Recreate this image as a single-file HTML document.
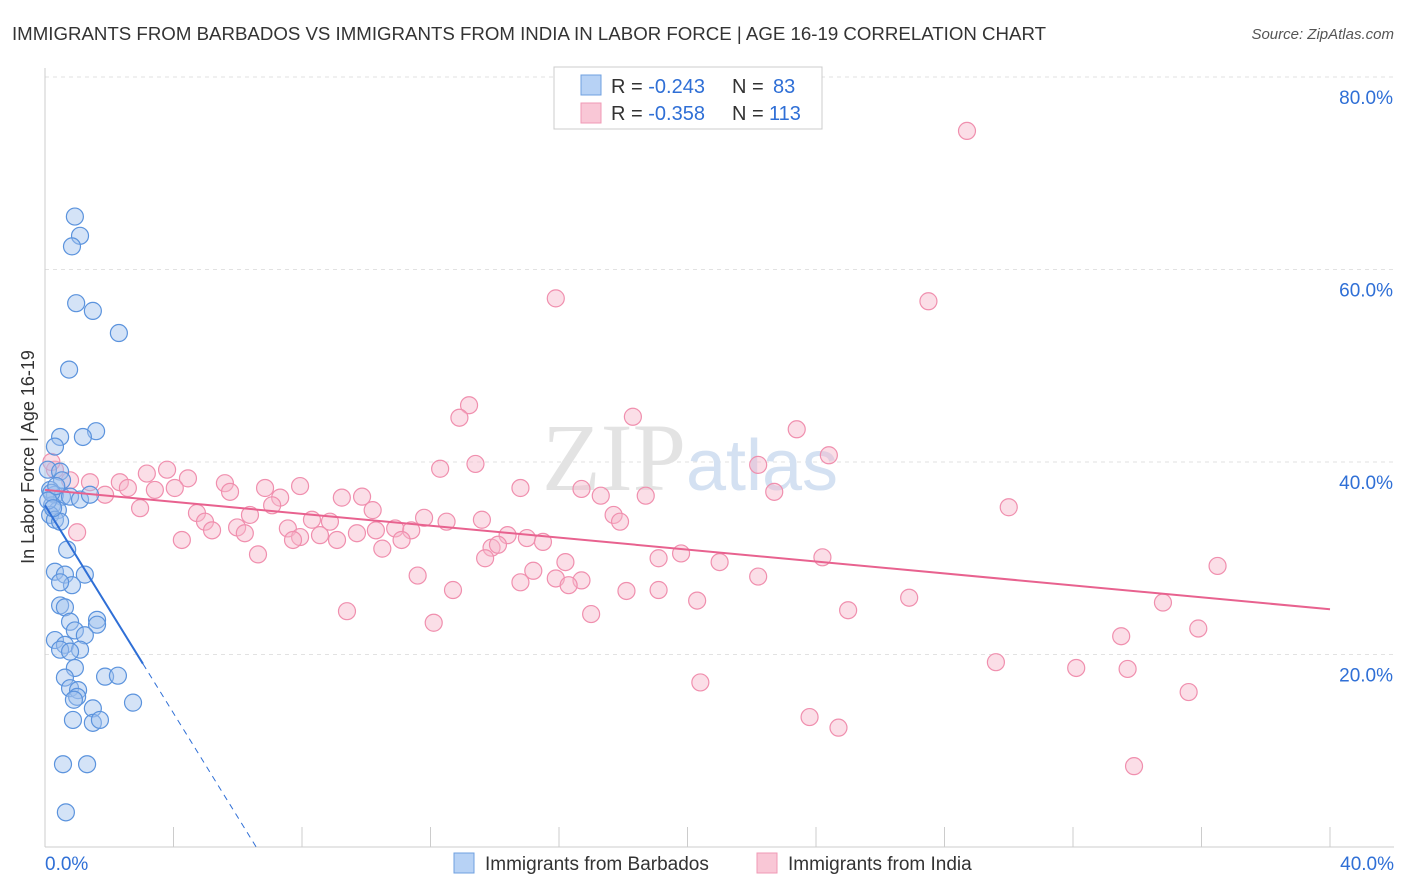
<!DOCTYPE html>
<html><head><meta charset="utf-8">
<style>
body{margin:0;background:#fff;font-family:"Liberation Sans",sans-serif;}
svg{display:block}
</style></head>
<body>
<svg id="chart" width="1406" height="892">
<text x="12" y="40" font-size="18" fill="#333" textLength="1034" lengthAdjust="spacingAndGlyphs">IMMIGRANTS FROM BARBADOS VS IMMIGRANTS FROM INDIA IN LABOR FORCE | AGE 16-19 CORRELATION CHART</text>
<text x="1394" y="39" font-size="15" fill="#555" text-anchor="end" font-style="italic">Source: ZipAtlas.com</text>
<g id="grid"></g>
<text x="690" y="490" font-size="96" fill="#e3e3e3" text-anchor="middle" font-family="Liberation Serif">ZIP<tspan fill="#d4e1f2" font-family="Liberation Sans" font-size="72">atlas</tspan></text>
<g id="marks"></g>
<text transform="translate(34,457) rotate(-90)" font-size="18" fill="#333" text-anchor="middle">In Labor Force | Age 16-19</text>
<g>
<rect x="554" y="67" width="268" height="62" fill="#fff" stroke="#ccc"/>
<rect x="581" y="75" width="20" height="20" fill="#b7d2f5" stroke="#6fa0e0"/>
<rect x="581" y="103" width="20" height="20" fill="#f9c7d6" stroke="#f09ab5"/>
<text x="611" y="93" font-size="20" fill="#333">R = <tspan fill="#2f6fd6">-0.243</tspan><tspan x="732">N = </tspan><tspan x="773" fill="#2f6fd6">83</tspan></text>
<text x="611" y="120" font-size="20" fill="#333">R = <tspan fill="#2f6fd6">-0.358</tspan><tspan x="732">N = </tspan><tspan x="769" fill="#2f6fd6">113</tspan></text>
</g>
<g>
<rect x="454" y="853" width="20" height="20" fill="#b7d2f5" stroke="#6fa0e0"/>
<text x="485" y="870" font-size="19" fill="#333">Immigrants from Barbados</text>
<rect x="757" y="853" width="20" height="20" fill="#f9c7d6" stroke="#f09ab5"/>
<text x="788" y="870" font-size="19" fill="#333">Immigrants from India</text>
</g>
</svg>
<script>
const barbadosX=[0.93,1.09,0.84,0.97,1.49,2.30,0.75,1.59,1.18,0.47,0.31,0.09,0.47,0.53,0.16,0.31,0.53,0.78,1.09,1.40,0.22,0.40,0.16,0.31,0.47,0.69,0.31,0.62,1.24,0.84,0.47,0.47,0.62,0.78,1.62,1.62,0.93,1.24,0.31,0.62,0.47,1.09,0.78,0.93,0.62,1.87,2.27,0.78,1.03,1.00,0.90,1.49,2.74,0.87,1.49,1.71,0.56,1.31,0.65,0.2,0.1,0.35,0.25];
const barbadosY=[65.5,63.5,62.4,56.5,55.7,53.4,49.6,43.2,42.6,42.6,41.6,39.2,39.0,38.1,37.1,36.6,36.4,36.4,36.1,36.6,35.5,35.0,34.5,34.0,33.8,30.9,28.6,28.3,28.3,27.2,27.5,25.1,24.9,23.4,23.6,23.1,22.5,22.0,21.5,21.0,20.5,20.5,20.3,18.6,17.6,17.7,17.8,16.5,16.3,15.6,15.3,14.4,15.0,13.2,12.9,13.2,8.6,8.6,3.6,36.8,36.0,37.5,35.2];
const indiaX=[28.7,15.9,27.5,13.2,12.9,18.3,23.4,24.4,22.2,13.4,12.3,3.80,3.17,4.45,2.33,1.40,0.78,0.31,5.60,4.04,3.42,2.58,6.85,7.94,5.76,7.32,9.24,9.87,14.8,16.7,17.3,18.7,22.7,1.87,2.96,4.73,6.38,7.07,10.2,30.0,4.98,5.98,8.31,8.87,11.8,12.5,13.6,17.7,17.9,10.3,10.9,11.4,9.71,7.56,5.20,6.22,7.94,8.56,9.09,7.72,4.26,1.00,11.1,14.4,15.0,15.5,10.5,13.9,14.1,6.63,13.7,16.2,19.1,19.8,21.0,24.2,36.5,15.2,11.6,14.8,15.9,16.7,16.3,22.2,12.7,18.1,19.1,20.3,26.9,34.8,9.40,17.0,25.0,12.1,35.9,33.5,29.6,32.1,33.7,20.4,35.6,23.8,24.7,33.9,0.2];
const indiaY=[74.4,57.0,56.7,45.9,44.6,44.7,43.4,40.7,39.7,39.8,39.3,39.2,38.8,38.3,37.9,37.9,38.1,39.2,37.8,37.3,37.1,37.3,37.3,37.5,36.9,36.3,36.3,36.4,37.3,37.2,36.5,36.5,36.9,36.6,35.2,34.7,34.5,35.5,35.0,35.3,33.8,33.2,34.0,33.8,34.2,33.8,34.0,34.5,33.8,32.9,33.1,32.9,32.6,33.1,32.9,32.6,32.2,32.4,31.9,31.9,31.9,32.7,31.9,32.4,32.1,31.7,31.0,31.1,31.4,30.4,30.0,29.6,30.0,30.5,29.6,30.1,29.2,28.7,28.2,27.5,27.9,27.7,27.2,28.1,26.7,26.6,26.7,25.6,25.9,25.4,24.5,24.2,24.6,23.3,22.7,21.9,19.2,18.6,18.5,17.1,16.1,13.5,12.4,8.4,40.0];
// trend lines: [intercept, slope] in percent units
const barbadosTrend=[35.5,-5.4];
const indiaTrend=[37.1,-0.31];
const barbadosSolidEnd=3.05;
const yTicks=[20,40,60,80];
const yTickLabels=["20.0%","40.0%","60.0%","80.0%"];
const xTicks=[0,4,8,12,16,20,24,28,32,36,40];

const NS="http://www.w3.org/2000/svg";
const svg=document.getElementById('chart');
const grid=document.getElementById('grid');
const marks=document.getElementById('marks');
const X0=45,X1=1330,Y0=847,Y80=77;
function sx(v){return X0+(v/40)*(X1-X0);}
function sy(v){return Y0-(v/80)*(Y0-Y80);}
function mk(tag,attrs,parent){const e=document.createElementNS(NS,tag);for(const k in attrs)e.setAttribute(k,attrs[k]);parent.appendChild(e);return e;}

yTicks.forEach((t,i)=>{
  const l=mk('line',{x1:X0,x2:1394,y1:sy(t),y2:sy(t),stroke:'#e2e2e2','stroke-dasharray':'4,4'},grid);
  
  
  const tx=mk('text',{x:1393,y:sy(t)+27,'font-size':19,fill:'#2f6fd6','text-anchor':'end'},svg);
  tx.textContent=yTickLabels[i];
  
  
});
const ax=mk('line',{x1:X0,x2:X0,y1:68,y2:Y0,stroke:'#ccc'},grid);


const bx=mk('line',{x1:X0,x2:1394,y1:Y0,y2:Y0,stroke:'#ccc'},grid);


xTicks.forEach(t=>{
  const l=mk('line',{x1:sx(t),x2:sx(t),y1:827,y2:Y0,stroke:'#ccc'},grid);
  
  
});
[[0,'0.0%','start',45],[40,'40.0%','end',1394]].forEach(a=>{
  const t=mk('text',{x:a[3],y:870,'font-size':19,fill:'#2f6fd6','text-anchor':a[2]},svg);
  t.textContent=a[1];
  
  
});

function dots(xs,ys,fill,stroke,name){
  xs.forEach((x,i)=>{
    const c=mk('circle',{cx:sx(x),cy:sy(ys[i]),r:8.5,fill:fill,'fill-opacity':0.45,stroke:stroke,'stroke-width':1.2},marks);
    
    
  });
}
dots(indiaX,indiaY,'#f7b6ca','#f08fae','india-point');
dots(barbadosX,barbadosY,'#9fc2ee','#5b93dd','barbados-point');

const [ii,si]=indiaTrend;
const pl=mk('line',{x1:sx(0),y1:sy(ii),x2:sx(40),y2:sy(ii+si*40),stroke:'#e8628f','stroke-width':2},marks);


const [ib,sb]=barbadosTrend;
const xe=barbadosSolidEnd;
const bl=mk('line',{x1:sx(0),y1:sy(ib),x2:sx(xe),y2:sy(ib+sb*xe),stroke:'#2f6fd6','stroke-width':2},marks);


const xz=-ib/sb;
const bd=mk('line',{x1:sx(xe),y1:sy(ib+sb*xe),x2:sx(xz),y2:sy(0),stroke:'#2f6fd6','stroke-width':1,'stroke-dasharray':'6,5'},marks);


</script>
</body></html>
